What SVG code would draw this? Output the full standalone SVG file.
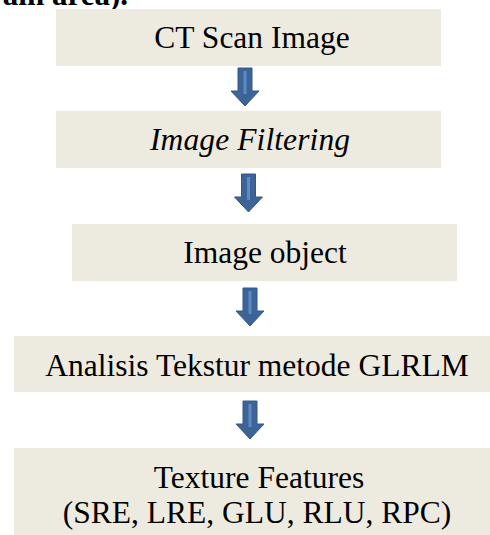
<svg xmlns="http://www.w3.org/2000/svg" width="490" height="535" viewBox="0 0 490 535">
<style>
.box{fill:#EDEBE0}
.t{font-family:"Liberation Serif","Times New Roman",serif;font-size:31.5px;fill:#000;text-anchor:middle}
.i{font-style:italic}
.arr{fill:#3C6497;stroke:#34578A;stroke-width:1}
.hl{fill:#5B8AC6}
</style>
<defs>
<g id="arrow">
<path class="arr" d="M-7,0 H7 V23 H14 L0,38 L-14,23 H-7 Z"/>
<rect class="hl" x="-1.5" y="3" width="3" height="23"/>
</g>
</defs>
<text x="128" y="5" style="font-family:'Liberation Serif',serif;font-size:31px;font-weight:bold;text-anchor:end">brain area).</text>
<g id="connectors">
<use href="#arrow" x="245" y="68"/>
<use href="#arrow" x="248.5" y="174"/>
<use href="#arrow" x="250" y="288"/>
<use href="#arrow" x="250" y="401"/>
</g>
<g id="n1"><rect class="box" x="56" y="9" width="385" height="57"/><text class="t" x="252" y="48">CT Scan Image</text></g>
<g id="n2"><rect class="box" x="56" y="111" width="385" height="57"/><text class="t i" x="250" y="150" textLength="200">Image Filtering</text></g>
<g id="n3"><rect class="box" x="72" y="224" width="385" height="57"/><text class="t" x="265" y="263">Image object</text></g>
<g id="n4"><rect class="box" x="14" y="336" width="476" height="56"/><text class="t" x="257" y="376">Analisis Tekstur metode GLRLM</text></g>
<g id="n5"><rect class="box" x="14" y="448" width="476" height="87"/><text class="t" x="259" y="488">Texture Features</text><text class="t" x="257" y="523">(SRE, LRE, GLU, RLU, RPC)</text></g>
</svg>
